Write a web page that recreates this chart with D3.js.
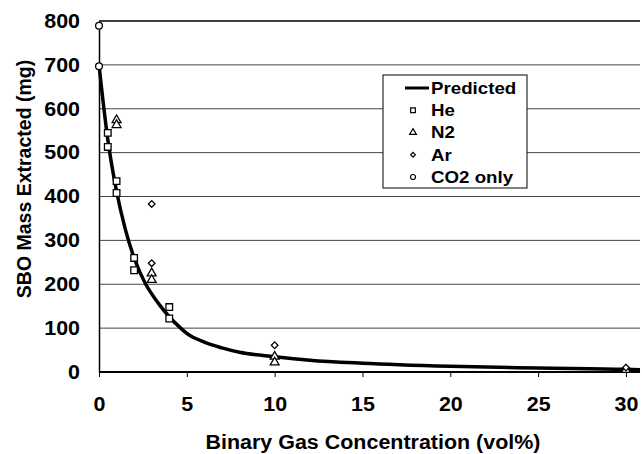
<!DOCTYPE html>
<html>
<head>
<meta charset="utf-8">
<script src="https://cdn.jsdelivr.net/npm/d3@7"></script>
<style>
  body { margin: 0; background: #fff; }
  text { font-family: "Liberation Sans", Arial, sans-serif; font-weight: bold; fill: #000; }
</style>
</head>
<body>
<svg id="chart" width="642" height="454"></svg>
<script>
// values
const predicted = [
  [0, 700], [0.5, 530], [1, 412], [1.5, 325], [2, 260], [2.66, 200], [3, 178],
  [3.5, 150], [4, 126], [4.65, 100], [5, 88], [6, 68], [7, 55], [8, 45],
  [10, 35], [12, 27], [15, 20], [20, 13], [25, 9], [30, 6], [30.8, 5]
];
const heData = [[0.5, 545], [0.5, 513], [1, 435], [1, 408], [2, 260], [2, 232], [4, 148], [4, 122]];
const n2Data = [[1, 574], [1, 563], [3, 225], [3, 210], [10, 35], [10, 22], [30, 5]];
const arData = [[3, 383], [3, 248], [10, 61], [30, 10]];
const co2Data = [[0, 789], [0, 697]];
const xTicks = [0, 5, 10, 15, 20, 25, 30];
const yTicks = [0, 100, 200, 300, 400, 500, 600, 700, 800];
const legendItems = ["Predicted", "He", "N2", "Ar", "CO2 only"];

const svg = d3.select("#chart");
const plotLeft = 99, plotRight = 640, plotTop = 21, plotBottom = 372;
const stretch = 1.1; // the original type is a little wider than Liberation Sans

const x = d3.scaleLinear().domain([0, 30.8]).range([plotLeft, plotRight]);
const y = d3.scaleLinear().domain([0, 800]).range([plotBottom, plotTop]);

function widen(sel) {
  sel.each(function () {
    const w = this.getComputedTextLength();
    d3.select(this).attr("textLength", w * stretch).attr("lengthAdjust", "spacingAndGlyphs");
  });
}

// gridlines
svg.append("g")
  .selectAll("line")
  .data(yTicks.filter(d => d > 0))
  .join("line")
  .attr("x1", plotLeft).attr("x2", plotRight)
  .attr("y1", d => y(d)).attr("y2", d => y(d))
  .attr("stroke", d => d === 800 ? "#000" : "#444")
  .attr("stroke-width", d => d === 800 ? 1.5 : 1);

// x axis
const xAxis = svg.append("g")
  .attr("transform", `translate(0,${plotBottom})`)
  .call(d3.axisBottom(x).tickValues(xTicks).tickSize(5).tickPadding(20));
xAxis.select(".domain").attr("stroke", "#000").attr("stroke-width", 2)
  .attr("d", `M${plotLeft},0H${plotRight}`);
xAxis.selectAll(".tick line").attr("stroke", "#000");
xAxis.selectAll("text").attr("font-size", 19.5).attr("font-family", null).call(widen);

// y axis
const yAxis = svg.append("g")
  .attr("transform", `translate(${plotLeft},0)`)
  .call(d3.axisLeft(y).tickValues(yTicks).tickSize(0).tickPadding(19));
yAxis.select(".domain").attr("stroke", "#000").attr("stroke-width", 1.5);
yAxis.selectAll("text").attr("font-size", 19.5).attr("font-family", null).call(widen);

// axis titles
svg.append("text")
  .attr("x", 373).attr("y", 449)
  .attr("text-anchor", "middle")
  .attr("font-size", 19.5)
  .text("Binary Gas Concentration (vol%)")
  .call(widen);

svg.append("text")
  .attr("transform", "translate(31,179) rotate(-90)")
  .attr("text-anchor", "middle")
  .attr("font-size", 19.5)
  .text("SBO Mass Extracted (mg)");

// predicted curve
const line = d3.line()
  .x(d => x(d[0]))
  .y(d => y(d[1]))
  .curve(d3.curveMonotoneX);

svg.append("path")
  .datum(predicted)
  .attr("d", line)
  .attr("fill", "none")
  .attr("stroke", "#000")
  .attr("stroke-width", 3.5);

// markers
const sym = {
  He: d3.symbol().type(d3.symbolSquare).size(44),
  N2: d3.symbol().type(d3.symbolTriangle).size(34),
  Ar: d3.symbol().type(d3.symbolSquare).size(22),
  "CO2 only": d3.symbol().type(d3.symbolCircle).size(36)
};
const rot = name => name === "Ar" ? " rotate(45)" : "";
const series = [["He", heData], ["N2", n2Data], ["Ar", arData], ["CO2 only", co2Data]];

series.forEach(([name, data]) => {
  svg.append("g")
    .selectAll("path")
    .data(data)
    .join("path")
    .attr("d", sym[name]())
    .attr("transform", d => `translate(${x(d[0])},${y(d[1])})` + rot(name))
    .attr("fill", "#fff")
    .attr("stroke", "#000")
    .attr("stroke-width", 1.3);
});

// legend
const legend = svg.append("g");
legend.append("rect")
  .attr("x", 383).attr("y", 75)
  .attr("width", 144).attr("height", 113)
  .attr("fill", "#fff")
  .attr("stroke", "#000")
  .attr("stroke-width", 1);

const ly = d3.scalePoint().domain(legendItems).range([88, 177]);
const legendSym = {
  He: d3.symbol().type(d3.symbolSquare).size(22),
  N2: d3.symbol().type(d3.symbolTriangle).size(20),
  Ar: d3.symbol().type(d3.symbolSquare).size(11),
  "CO2 only": d3.symbol().type(d3.symbolCircle).size(20)
};

legendItems.forEach(name => {
  if (name === "Predicted") {
    legend.append("line")
      .attr("x1", 405).attr("x2", 429)
      .attr("y1", ly(name)).attr("y2", ly(name))
      .attr("stroke", "#000").attr("stroke-width", 3);
  } else {
    legend.append("path")
      .attr("d", legendSym[name]())
      .attr("transform", `translate(413,${ly(name)})` + rot(name))
      .attr("fill", "#fff")
      .attr("stroke", "#000")
      .attr("stroke-width", 1.2);
  }
  legend.append("text")
    .attr("x", 431).attr("y", ly(name))
    .attr("dy", "0.35em")
    .attr("font-size", 17)
    .text(name)
    .call(widen);
});
</script>
</body>
</html>
